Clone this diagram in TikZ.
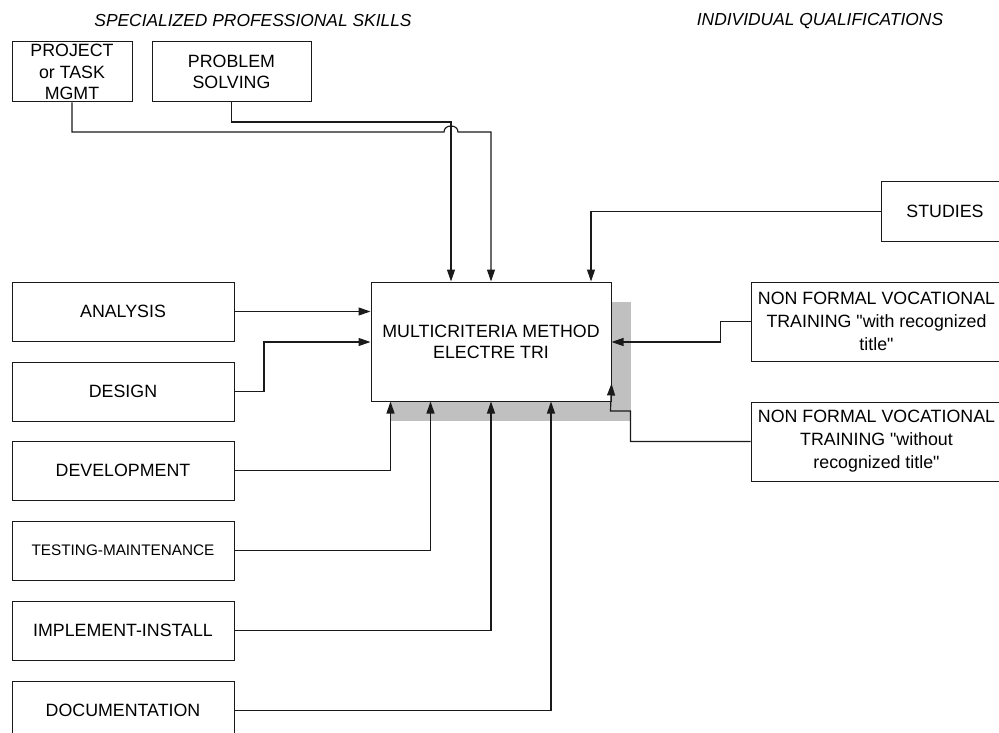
\documentclass[tikz,border=0pt]{standalone}
\usepackage{fontspec}
\newfontfamily\af{Liberation Sans}
\usetikzlibrary{arrows.meta,calc}
\definecolor{ln}{HTML}{1A1A1A}
\definecolor{shadowgray}{HTML}{C0C0C0}
\begin{document}
\begin{tikzpicture}[x=1pt,y=-1pt,
  box/.style={draw=ln, line width=1pt, rectangle, inner sep=0pt, align=center,
    fill=white, font=\af\fontsize{17.8}{21.5}\selectfont},
  lbox/.style={box, minimum width=222pt, minimum height=59pt},
  rbox/.style={box, minimum width=251pt, minimum height=79pt, font=\af\fontsize{17.8}{23}\selectfont},
  conn/.style={draw=ln, line width=1.15pt},
  arr/.style={conn, -{Triangle[length=12pt,width=8pt]}},
  ttl/.style={inner sep=0pt, font=\af\fontsize{17.4}{21}\selectfont\itshape}]
\useasboundingbox (0,0) rectangle (999,733);

% titles
\node[ttl] (t1) at (253,21) {SPECIALIZED PROFESSIONAL SKILLS};
\node[ttl] (t2) at (820,21) {INDIVIDUAL QUALIFICATIONS};

% shadow of central box
\fill[shadowgray] (391,302) rectangle (631,421);

% central box
\node[box, minimum width=240pt, minimum height=119pt, font=\af\fontsize{17.8}{21}\selectfont] (mc) at (491,341.5) {MULTICRITERIA METHOD\\ELECTRE TRI};

% top boxes
\node[box, minimum width=120pt, minimum height=60pt] (proj) at (72,72) {PROJECT\\or TASK\\MGMT};
\node[box, minimum width=159pt, minimum height=60pt, font=\af\fontsize{17.8}{21}\selectfont] (prob) at (231.5,72) {PROBLEM\\SOLVING};

% left boxes
\node[lbox] (ana) at (123,311.5) {ANALYSIS};
\node[lbox] (des) at (123,391.5) {DESIGN};
\node[lbox] (dev) at (123,470.5) {DEVELOPMENT};
\node[lbox, font=\af\fontsize{15.3}{18}\selectfont] (tst) at (123,550.5) {TESTING-MAINTENANCE};
\node[lbox] (imp) at (123,630.5) {IMPLEMENT-INSTALL};
\node[lbox] (doc) at (123,710.5) {DOCUMENTATION};

% right boxes
\node[box, minimum width=128pt, minimum height=59pt] (stu) at (945,211.5) {STUDIES};
\node[rbox] (nfw) at (876.5,321.5) {NON FORMAL VOCATIONAL\\TRAINING "with recognized\\title"};
\node[rbox] (nfo) at (876.5,441.5) {NON FORMAL VOCATIONAL\\TRAINING "without\\recognized title"};

% connectors from the top
\draw[arr] (prob.south) -- (231.5,122) -- (451,122) -- ($(mc.north)+(-40,0)$);
\draw[arr] (proj.south) -- (72,132) -- (444,132)
  .. controls (444,124) and (458,124) .. (458,132) -- (491,132) -- (mc.north);

% connectors from the left
\draw[arr] (ana.east) -- (ana.east -| mc.west);
\draw[arr] (des.east) -- (264,391.5) -- (264,342) -- ($(mc.west)+(0,0.5)$);

% connectors from below
\draw[arr] (dev.east) -| ($(mc.south west)+(20,0)$);
\draw[arr] (tst.east) -| ($(mc.south west)+(60,0)$);
\draw[arr] (imp.east) -| (mc.south);
\draw[arr] (doc.east) -| ($(mc.south)+(60,0)$);

% connectors from the right
\draw[arr] (stu.west) -| ($(mc.north)+(100,0)$);
\draw[arr] (nfw.west) -- ++(-30,0) |- ($(mc.east)+(0,0.5)$);
\draw[arr] (nfo.west) -- ++(-120,0) -- ++(0,-30.5) -- ++(-20,0) -- ($(mc.south east)+(0,-18)$);
\end{tikzpicture}
\end{document}
